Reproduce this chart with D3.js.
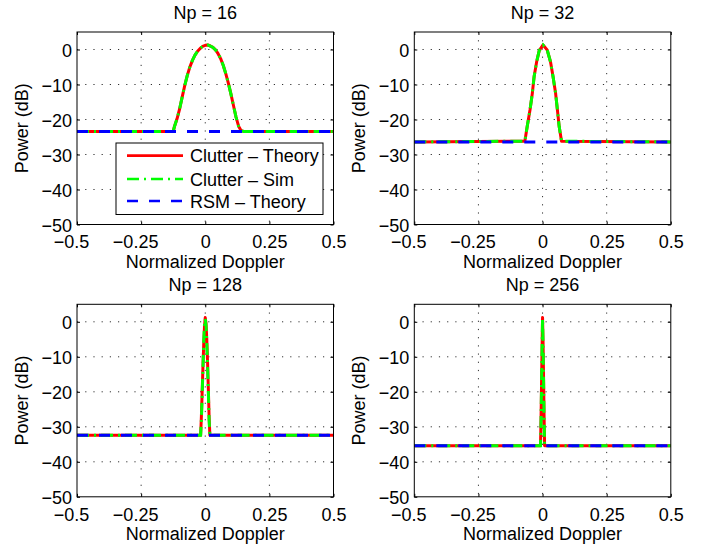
<!DOCTYPE html>
<html>
<head>
<meta charset="utf-8">
<script src="https://cdn.jsdelivr.net/npm/d3@7/dist/d3.min.js"></script>
<style>
  html, body { margin: 0; padding: 0; background: #fff; }
  svg { display: block; font-family: "Liberation Sans", Arial, Helvetica, sans-serif; }
</style>
</head>
<body>
<svg id="chart" width="710" height="550"></svg>
<script>
// ---------------- data ----------------
const panelTitles = ["Np = 16", "Np = 32", "Np = 128", "Np = 256"];
const dopplerTicks = [-0.5, -0.25, 0, 0.25, 0.5];
const dopplerTickLabels = ["\u22120.5", "\u22120.25", "0", "0.25", "0.5"];
const powerTicks = [-50, -40, -30, -20, -10, 0];
const powerTickLabels = ["\u221250", "\u221240", "\u221230", "\u221220", "\u221210", "0"];
const legendLabels = ["Clutter \u2013 Theory", "Clutter \u2013 Sim", "RSM \u2013 Theory"];

// RSM theory floor levels (dB) per panel
const rsmLevels = [-23.4, -26.4, -32.4, -35.4];

// Np = 16
const doppler16 = [-0.5, -0.125, -0.12, -0.11, -0.10, -0.09, -0.08, -0.07, -0.06, -0.05, -0.04, -0.03, -0.02, -0.01, 0.0, 0.01, 0.02, 0.03, 0.04, 0.05, 0.06, 0.07, 0.08, 0.09, 0.10, 0.11, 0.12, 0.13, 0.14, 0.15, 0.5];
const theory16  = [-23.4, -23.4, -22.0, -19.8, -17.0, -13.6, -10.3, -7.4, -5.0, -3.1, -1.6, -0.5, 0.3, 0.9, 1.2, 1.3, 1.0, 0.6, -0.1, -1.2, -2.6, -4.5, -6.9, -9.6, -12.7, -16.0, -19.3, -21.9, -23.2, -23.4, -23.4];
const sim16     = [-23.4, -23.4, -22.0, -19.8, -17.0, -13.6, -10.3, -7.4, -5.0, -3.1, -1.6, -0.5, 0.3, 0.9, 1.2, 1.3, 1.0, 0.6, -0.1, -1.2, -2.6, -4.5, -6.9, -9.6, -12.7, -16.0, -19.3, -21.9, -23.2, -23.4, -23.4];

// Np = 32
const doppler32 = [-0.5, -0.069, -0.060, -0.049, -0.040, -0.033, -0.023, -0.013, 0.002, 0.018, 0.031, 0.041, 0.051, 0.058, 0.065, 0.074, 0.5];
const theory32  = [-26.4, -26.2, -22.1, -17.3, -12.6, -7.8, -3.5, -0.3, 1.3, -0.1, -3.5, -7.8, -12.6, -17.3, -22.1, -26.2, -26.4];
const sim32     = [-26.4, -26.2, -22.1, -17.3, -12.6, -7.8, -3.5, -0.3, 1.3, -0.1, -3.5, -7.8, -12.6, -17.3, -22.1, -26.2, -26.4];

// Np = 128
const doppler128 = [-0.5, -0.018, -0.015, -0.012, -0.009, -0.006, -0.003, 0.0, 0.003, 0.006, 0.009, 0.012, 0.015, 0.018, 0.5];
const theory128  = [-32.4, -32.4, -27.0, -20.0, -13.0, -6.5, -1.5, 1.2, -0.5, -5.0, -11.5, -19.0, -27.0, -32.4, -32.4];
const sim128     = [-32.4, -32.4, -28.0, -21.0, -13.5, -6.0, -0.8, 0.8, -1.0, -6.0, -12.5, -20.0, -28.0, -32.4, -32.4];

// Np = 256
const doppler256 = [-0.5, -0.008, -0.006, -0.004, -0.002, 0.0, 0.002, 0.004, 0.006, 0.008, 0.5];
const theory256  = [-35.4, -35.4, -28.0, -18.0, -8.0, 1.2, -6.0, -16.0, -27.0, -35.4, -35.4];
const sim256     = [-35.4, -35.4, -29.0, -19.0, -8.5, 1.0, -7.0, -17.0, -28.0, -35.4, -35.4];

const dopplerSets = [doppler16, doppler32, doppler128, doppler256];
const theorySets = [theory16, theory32, theory128, theory256];
const simSets = [sim16, sim32, sim128, sim256];

// ---------------- layout ----------------
const svg = d3.select("#chart");
const FONT = 18;
const plotW = 256.5, plotH = 192.5;
const origins = [[77, 32], [414.3, 32], [77, 304.3], [414.3, 304.3]];

const colors = { theory: "#ff0000", sim: "#00ff00", rsm: "#0000ff" };
const LW = 3;
const LWLEG = 2.7;
const dashSim = "12,5,2,5";
const dashRsm = "11,11";

for (let p = 0; p < 4; p++) {
  const [ox, oy] = origins[p];
  const g = svg.append("g").attr("transform", `translate(${ox},${oy})`);
  const x = d3.scaleLinear().domain([-0.5, 0.5]).range([0, plotW]);
  const y = d3.scaleLinear().domain([-50, 5]).range([plotH, 0]);

  g.append("rect").attr("width", plotW).attr("height", plotH).attr("fill", "#fff");

  // grid
  const gridX = dopplerTicks.filter(d => d > -0.5 && d < 0.5);
  const gridY = powerTicks.filter(d => d > -50 && d < 5);
  g.append("g").selectAll("line").data(gridX).join("line")
    .attr("x1", d => x(d)).attr("x2", d => x(d))
    .attr("y1", 0).attr("y2", plotH)
    .attr("stroke", "#000").attr("stroke-width", 1)
    .attr("stroke-dasharray", "1.2,7").attr("opacity", 0.8);
  g.append("g").selectAll("line").data(gridY).join("line")
    .attr("y1", d => y(d)).attr("y2", d => y(d))
    .attr("x1", 0).attr("x2", plotW)
    .attr("stroke", "#000").attr("stroke-width", 1)
    .attr("stroke-dasharray", "1.2,7").attr("opacity", 0.8);

  const clipId = "clip" + p;
  g.append("clipPath").attr("id", clipId).append("rect")
    .attr("x", 0).attr("y", 0).attr("width", plotW).attr("height", plotH);

  const line = d3.line().x(d => x(d[0])).y(d => y(d[1]));
  const xs = dopplerSets[p];
  const theoryPts = xs.map((v, i) => [v, theorySets[p][i]]);
  const simPts = xs.map((v, i) => [v, simSets[p][i]]);
  const rsmPts = [[-0.5, rsmLevels[p]], [0.5, rsmLevels[p]]];

  const lines = g.append("g").attr("clip-path", `url(#${clipId})`);
  lines.append("path").attr("d", line(theoryPts)).attr("fill", "none")
    .attr("stroke", colors.theory).attr("stroke-width", LW).attr("stroke-linejoin", "round");
  lines.append("path").attr("d", line(simPts)).attr("fill", "none")
    .attr("stroke", colors.sim).attr("stroke-width", LW).attr("stroke-dasharray", dashSim);
  lines.append("path").attr("d", line(rsmPts)).attr("fill", "none")
    .attr("stroke", colors.rsm).attr("stroke-width", LW).attr("stroke-dasharray", dashRsm);

  // axes
  const xAxis = d3.axisBottom(x).tickValues(dopplerTicks)
    .tickFormat((d, i) => dopplerTickLabels[i]).tickSizeInner(-3).tickSizeOuter(0).tickPadding(11);
  const xg = g.append("g").attr("transform", `translate(0,${plotH})`).call(xAxis);
  const yAxis = d3.axisLeft(y).tickValues(powerTicks)
    .tickFormat((d, i) => powerTickLabels[i]).tickSizeInner(-3).tickSizeOuter(0).tickPadding(5);
  const yg = g.append("g").call(yAxis);
  const xTop = d3.axisTop(x).tickValues(dopplerTicks).tickFormat("").tickSizeInner(-3).tickSizeOuter(0);
  g.append("g").call(xTop);
  const yRight = d3.axisRight(y).tickValues(powerTicks).tickFormat("").tickSizeInner(-3).tickSizeOuter(0);
  g.append("g").attr("transform", `translate(${plotW},0)`).call(yRight);

  g.selectAll(".domain").remove();
  g.selectAll(".tick line").attr("stroke", "#000");
  xg.selectAll("text").attr("font-size", FONT).attr("fill", "#000")
    .attr("font-family", "Liberation Sans, Arial, sans-serif")
    .attr("dx", d => d < 0 ? -6 : 0);
  yg.selectAll("text").attr("font-size", FONT).attr("fill", "#000")
    .attr("font-family", "Liberation Sans, Arial, sans-serif")
    .attr("dy", "0.37em");

  g.append("rect").attr("width", plotW).attr("height", plotH)
    .attr("fill", "none").attr("stroke", "#000").attr("stroke-width", 1);

  g.append("text").attr("x", plotW / 2).attr("y", -13)
    .attr("text-anchor", "middle").attr("font-size", FONT).text(panelTitles[p]);
  g.append("text").attr("x", plotW / 2).attr("y", plotH + 43.5)
    .attr("text-anchor", "middle").attr("font-size", FONT).text("Normalized Doppler");
  g.append("text").attr("transform", `translate(-49,${plotH / 2}) rotate(-90)`)
    .attr("text-anchor", "middle").attr("font-size", FONT).text("Power (dB)");

  if (p === 0) {
    const lx = 116 - ox, ly = 143 - oy, lw = 207, lh = 71.5;
    const lg = g.append("g").attr("transform", `translate(${lx},${ly})`);
    lg.append("rect").attr("width", lw).attr("height", lh)
      .attr("fill", "#fff").attr("stroke", "#000").attr("stroke-width", 1);
    const rowY = [12.7, 36, 58];
    const styles = [
      { c: colors.theory, dash: null },
      { c: colors.sim, dash: dashSim },
      { c: colors.rsm, dash: dashRsm }
    ];
    legendLabels.forEach((lab, i) => {
      const ln = lg.append("line").attr("x1", 11).attr("x2", 67)
        .attr("y1", rowY[i]).attr("y2", rowY[i])
        .attr("stroke", styles[i].c).attr("stroke-width", LWLEG);
      if (styles[i].dash) ln.attr("stroke-dasharray", styles[i].dash);
      lg.append("text").attr("x", 74).attr("y", rowY[i] + 6.5)
        .attr("font-size", FONT).text(lab);
    });
  }
}
</script>
</body>
</html>
